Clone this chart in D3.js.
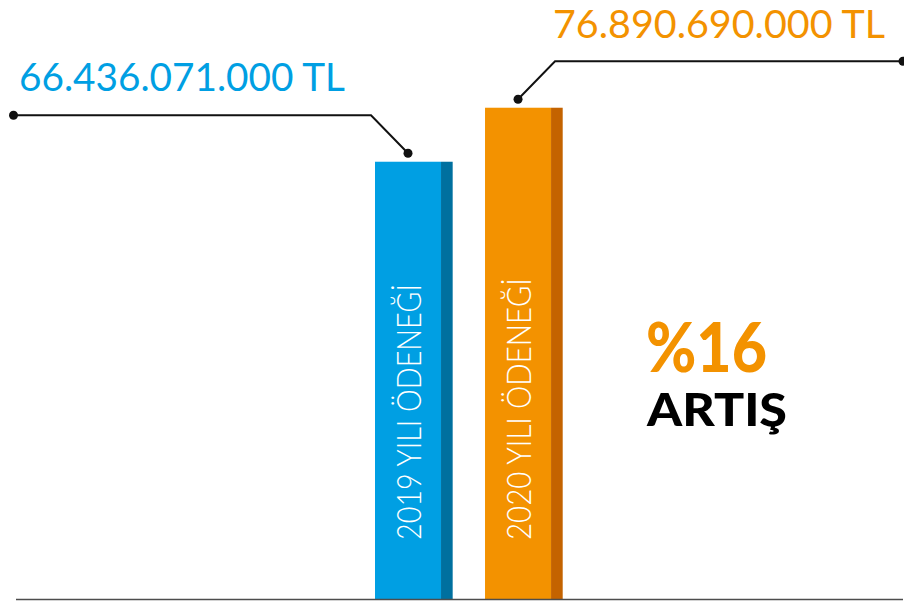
<!DOCTYPE html>
<html>
<head>
<meta charset="utf-8">
<script src="https://cdn.jsdelivr.net/npm/d3@7/dist/d3.min.js"></script>
<style>
html,body{margin:0;padding:0;background:#fff;}
svg{display:block;}
</style>
</head>
<body>
<script>
const years = ["2019", "2020"];
const values = [66.436071, 76.89069]; // billions TL
const valueLabels = ["66.436.071.000 TL", "76.890.690.000 TL"];
const barLabels = ["2019 YILI ÖDENEĞİ", "2020 YILI ÖDENEĞİ"];
const increaseText = "%16";
const increaseLabel = "ARTIŞ";

const W = 904, H = 601;
const mainColors = ["#009FE3", "#F39200"];
const sideColors = ["#00709F", "#C46300"];

const svg = d3.select("body").append("svg").attr("width", W).attr("height", H);

const x = d3.scaleBand().domain(years).range([375, 562.7]).paddingInner(0.294).paddingOuter(0);
const y = d3.scaleLinear().domain([-18.3, 90]).range([599.5, 40]);
const base = y(-18.3);
const bw = x.bandwidth();
const faceW = bw * 0.85;

const data = years.map((yr, i) => ({yr, v: values[i], label: valueLabels[i], bl: barLabels[i], i}));

const g = svg.append("g");
g.selectAll("rect.face").data(data).join("rect")
  .attr("class", "face")
  .attr("x", d => x(d.yr)).attr("y", d => y(d.v))
  .attr("width", faceW).attr("height", d => base - y(d.v))
  .attr("fill", d => mainColors[d.i]);
g.selectAll("rect.side").data(data).join("rect")
  .attr("class", "side")
  .attr("x", d => x(d.yr) + faceW).attr("y", d => y(d.v))
  .attr("width", bw - faceW).attr("height", d => base - y(d.v))
  .attr("fill", d => sideColors[d.i]);

g.selectAll("text.bl").data(data).join("text")
  .attr("class", "bl")
  .attr("transform", d => `translate(${x(d.yr) + faceW / 2 + 12.5},540) rotate(-90)`)
  .attr("font-family", "Lato, 'Noto Sans', sans-serif")
  .attr("font-weight", 300)
  .attr("font-size", 33)
  .attr("fill", "#fff")
  .attr("textLength", d => d.i === 0 ? 256 : 262)
  .attr("lengthAdjust", "spacingAndGlyphs")
  .text(d => d.bl);

svg.append("line").attr("x1", 16).attr("x2", 903).attr("y1", base).attr("y2", base)
  .attr("stroke", "#4d4d4d").attr("stroke-width", 1.6);

data.forEach(d => {
  const cx = x(d.yr) + faceW / 2;
  const dy = y(d.v) - 8.5;
  const dir = d.i === 0 ? -1 : 1;
  const ex = cx + dir * 37, ey = dy - 38;
  const endX = d.i === 0 ? 13.5 : 903;
  svg.append("polyline")
    .attr("points", `${cx},${dy} ${ex},${ey} ${endX},${ey}`)
    .attr("fill", "none").attr("stroke", "#111").attr("stroke-width", 2);
  svg.append("circle").attr("cx", cx).attr("cy", dy).attr("r", 4.5).attr("fill", "#111");
  svg.append("circle").attr("cx", endX).attr("cy", ey).attr("r", 4.5).attr("fill", "#111");
  const tx = d.i === 0 ? 19 : 553;
  svg.append("text")
    .attr("x", tx).attr("y", d.i === 0 ? 91 : 38)
    .attr("font-family", "Lato, 'Noto Sans', sans-serif")
    .attr("font-weight", 400)
    .attr("font-size", 38)
    .attr("fill", mainColors[d.i])
    .attr("textLength", d.i === 0 ? 326 : 332)
    .attr("lengthAdjust", "spacingAndGlyphs")
    .text(d.label);
});

svg.append("text").attr("x", 646).attr("y", 372)
  .attr("font-family", "Lato, 'Noto Sans', sans-serif").attr("font-weight", 900)
  .attr("font-size", 68).attr("fill", "#F39200")
  .attr("textLength", 121).attr("lengthAdjust", "spacingAndGlyphs")
  .text(increaseText);
svg.append("text").attr("x", 647).attr("y", 426)
  .attr("font-family", "Lato, 'Noto Sans', sans-serif").attr("font-weight", 900)
  .attr("font-size", 46).attr("fill", "#000")
  .attr("textLength", 140).attr("lengthAdjust", "spacingAndGlyphs")
  .text(increaseLabel);
</script>
</body>
</html>
